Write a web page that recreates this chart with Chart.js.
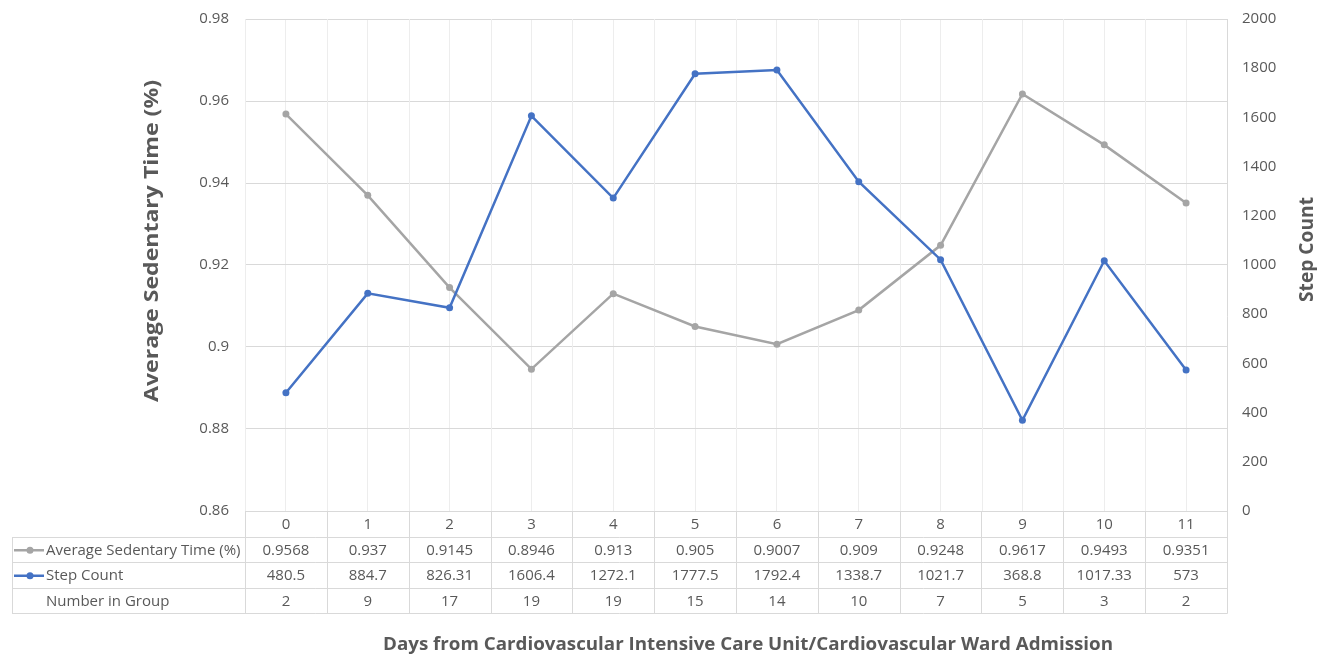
<!DOCTYPE html>
<html>
<head>
<meta charset="utf-8">
<title>Sedentary Time and Step Count</title>
<script src="https://cdn.jsdelivr.net/npm/chart.js@4.4.1/dist/chart.umd.min.js"></script>
<style>
  html, body { margin: 0; padding: 0; background: #ffffff; }
  canvas { display: block; }
</style>
</head>
<body>
<canvas id="chart" width="1317" height="656"></canvas>
<script>
// Days since admission and the values recorded for each day
const days = ['0', '1', '2', '3', '4', '5', '6', '7', '8', '9', '10', '11'];
const sedentary = [0.9568, 0.937, 0.9145, 0.8946, 0.913, 0.905, 0.9007, 0.909, 0.9248, 0.9617, 0.9493, 0.9351];
const steps = [480.5, 884.7, 826.31, 1606.4, 1272.1, 1777.5, 1792.4, 1338.7, 1021.7, 368.8, 1017.33, 573];
const groupSize = [2, 9, 17, 19, 19, 15, 14, 10, 7, 5, 3, 2];

// Axis tick values
const sedentaryTicks = [0.86, 0.88, 0.9, 0.92, 0.94, 0.96, 0.98];
const stepTicks = [0, 200, 400, 600, 800, 1000, 1200, 1400, 1600, 1800, 2000];

const GREY = '#A5A5A5';
const BLUE = '#4472C4';
const TEXT = '#595959';
const GRID = '#D9D9D9';
const FAINT = '#EDEDED';
const FONT = '"Open Sans", "Noto Sans", sans-serif';

const TABLE_FONT = 15;
const TICK_FONT = 15;
const ROW_H = 25.5;
const TABLE_LEFT = 12;

// Table rows shown under the plot: label, marker colour (or none), values
const tableRows = [
  { label: 'Average Sedentary Time (%)', color: GREY, values: sedentary },
  { label: 'Step Count', color: BLUE, values: steps },
  { label: 'Number in Group', color: null, values: groupSize }
];

// Axis titles: text, centre, rotation, font size, drawn length
const axisTitles = [
  { text: 'Average Sedentary Time (%)', cx: 152, cy: 241, rot: -Math.PI / 2, size: 20, length: 322 },
  { text: 'Step Count', cx: 1308, cy: 249.5, rot: -Math.PI / 2, size: 19, length: 105 },
  { text: 'Days from Cardiovascular Intensive Care Unit/Cardiovascular Ward Admission', cx: 748, cy: 645, rot: 0, size: 18, length: 730 }
];

// Column boundary lines inside the plot, behind the series
const columnLines = {
  id: 'columnLines',
  beforeDatasetsDraw(chart) {
    const { ctx, chartArea: a, scales: { x } } = chart;
    const half = (x.getPixelForValue(1) - x.getPixelForValue(0)) / 2;
    ctx.save();
    ctx.strokeStyle = FAINT;
    ctx.lineWidth = 1;
    ctx.beginPath();
    for (let i = 0; i < days.length; i++) {
      const bx = Math.round(x.getPixelForValue(i) - half) + 0.5;
      ctx.moveTo(bx, a.top);
      ctx.lineTo(bx, a.bottom);
    }
    ctx.stroke();
    ctx.restore();
  }
};

// Axis titles in bold
const titles = {
  id: 'titles',
  afterDraw(chart) {
    const { ctx } = chart;
    axisTitles.forEach(t => {
      ctx.save();
      ctx.font = 'bold ' + t.size + 'px ' + FONT;
      ctx.fillStyle = TEXT;
      ctx.textAlign = 'center';
      ctx.textBaseline = 'middle';
      ctx.translate(t.cx, t.cy);
      ctx.rotate(t.rot);
      const w = ctx.measureText(t.text).width;
      ctx.scale(t.length / w, 1);
      ctx.fillText(t.text, 0, 0);
      ctx.restore();
    });
  }
};

// Data table drawn below the plot area, aligned with the category columns
const dataTable = {
  id: 'dataTable',
  afterDraw(chart) {
    const { ctx, chartArea: a, scales: { x } } = chart;
    const half = (x.getPixelForValue(1) - x.getPixelForValue(0)) / 2;
    const colLeft = x.getPixelForValue(0) - half;
    const colRight = x.getPixelForValue(days.length - 1) + half;
    const top = a.bottom;
    const bottom = top + ROW_H * (tableRows.length + 1);

    ctx.save();
    ctx.strokeStyle = GRID;
    ctx.lineWidth = 1;
    ctx.beginPath();
    // horizontal rules
    for (let r = 1; r <= tableRows.length + 1; r++) {
      const y = Math.round(top + r * ROW_H) + 0.5;
      ctx.moveTo(TABLE_LEFT, y);
      ctx.lineTo(Math.round(colRight) + 0.5, y);
    }
    // left edge of the label column
    ctx.moveTo(TABLE_LEFT + 0.5, Math.round(top + ROW_H) + 0.5);
    ctx.lineTo(TABLE_LEFT + 0.5, Math.round(bottom) + 0.5);
    // column boundaries
    for (let i = 0; i <= days.length; i++) {
      const bx = Math.round(colLeft + i * half * 2) + 0.5;
      ctx.moveTo(bx, i === days.length ? a.top : top);
      ctx.lineTo(bx, Math.round(bottom) + 0.5);
    }
    ctx.stroke();

    ctx.font = TABLE_FONT + 'px ' + FONT;
    ctx.fillStyle = TEXT;
    ctx.textBaseline = 'middle';
    tableRows.forEach((row, r) => {
      const cy = top + (r + 1.5) * ROW_H + 1;
      if (row.color) {
        ctx.strokeStyle = row.color;
        ctx.lineWidth = 2.5;
        ctx.beginPath();
        ctx.moveTo(14, cy);
        ctx.lineTo(44, cy);
        ctx.stroke();
        ctx.fillStyle = row.color;
        ctx.beginPath();
        ctx.arc(30, cy, 3.5, 0, Math.PI * 2);
        ctx.fill();
      }
      ctx.fillStyle = TEXT;
      ctx.textAlign = 'left';
      ctx.fillText(row.label, 46, cy);
      ctx.textAlign = 'center';
      row.values.forEach((v, i) => {
        ctx.fillText(String(v), x.getPixelForValue(i), cy);
      });
    });
    ctx.restore();
  }
};

new Chart(document.getElementById('chart'), {
  type: 'line',
  data: {
    labels: days,
    datasets: [
      {
        label: 'Step Count',
        data: steps,
        yAxisID: 'y1',
        borderColor: BLUE,
        backgroundColor: BLUE,
        borderWidth: 2.5,
        pointRadius: 3.5,
        pointBorderWidth: 0,
        pointBackgroundColor: BLUE,
        tension: 0
      },
      {
        label: 'Average Sedentary Time (%)',
        data: sedentary,
        yAxisID: 'y',
        borderColor: GREY,
        backgroundColor: GREY,
        borderWidth: 2.5,
        pointRadius: 3.5,
        pointBorderWidth: 0,
        pointBackgroundColor: GREY,
        tension: 0
      }
    ]
  },
  options: {
    responsive: false,
    animation: false,
    devicePixelRatio: 1,
    layout: { padding: { top: 19, left: 0, right: 0, bottom: 0 } },
    plugins: {
      legend: { display: false },
      tooltip: { enabled: false }
    },
    scales: {
      x: {
        type: 'category',
        offset: true,
        border: { display: false },
        grid: { offset: false, color: FAINT, drawTicks: false },
        ticks: { color: TEXT, font: { family: FONT, size: TABLE_FONT }, padding: 5, maxRotation: 0, autoSkip: false },
        afterFit(scale) { scale.height = 145; }
      },
      y: {
        position: 'left',
        min: 0.86,
        max: 0.98,
        border: { display: false },
        grid: { color: GRID, drawTicks: false },
        afterBuildTicks(scale) { scale.ticks = sedentaryTicks.map(v => ({ value: v })); },
        ticks: { color: TEXT, font: { family: FONT, size: TICK_FONT }, padding: 16, callback: v => String(v) },
        afterFit(scale) { scale.width = 245; scale.paddingTop = 0; scale.paddingBottom = 0; }
      },
      y1: {
        position: 'right',
        min: 0,
        max: 2000,
        border: { display: false },
        grid: { display: false, drawTicks: false },
        afterBuildTicks(scale) { scale.ticks = stepTicks.map(v => ({ value: v })); },
        ticks: { color: TEXT, font: { family: FONT, size: TICK_FONT }, padding: 15, callback: v => String(v) },
        afterFit(scale) { scale.width = 90; scale.paddingTop = 0; scale.paddingBottom = 0; }
      }
    }
  },
  plugins: [columnLines, dataTable, titles]
});
</script>
</body>
</html>
